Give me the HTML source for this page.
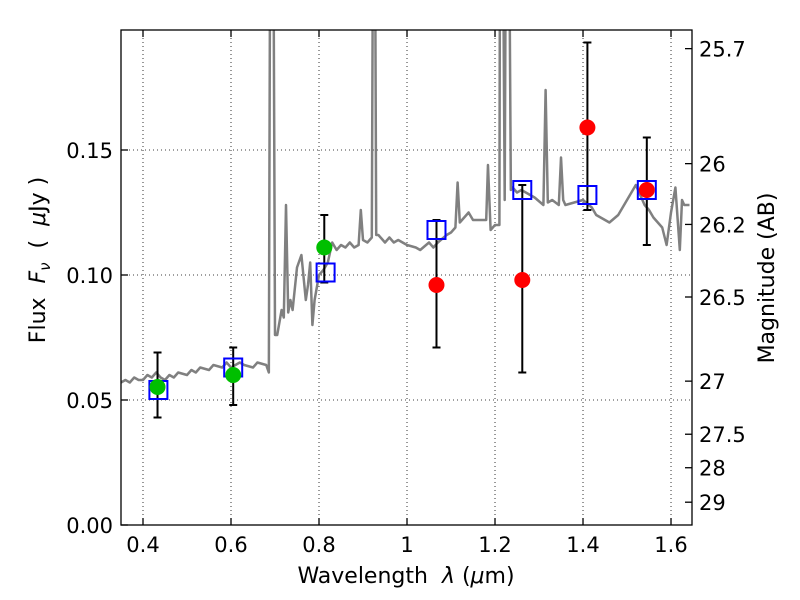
<!DOCTYPE html>
<html><head><meta charset="utf-8"><style>
body{margin:0;background:#fff}
svg{display:block;font-family:"DejaVu Sans","Liberation Sans",sans-serif}
</style></head><body>
<svg id="c" width="800" height="600"></svg>
<script>
const specWave=[0.35,0.36,0.37,0.38,0.39,0.4,0.41,0.42,0.43,0.44,0.45,0.46,0.47,0.48,0.5,0.51,0.52,0.53,0.55,0.56,0.58,0.59,0.6,0.62,0.63,0.65,0.66,0.68,0.686,0.69,0.695,0.7,0.705,0.715,0.72,0.725,0.73,0.735,0.74,0.75,0.76,0.77,0.775,0.78,0.785,0.79,0.80,0.81,0.82,0.83,0.84,0.85,0.86,0.87,0.88,0.89,0.895,0.90,0.91,0.92,0.924,0.926,0.93,0.935,0.95,0.96,0.97,0.98,1.0,1.02,1.03,1.05,1.06,1.07,1.09,1.1,1.11,1.115,1.12,1.13,1.14,1.15,1.165,1.18,1.184,1.19,1.2,1.21,1.212,1.216,1.222,1.226,1.23,1.236,1.24,1.25,1.26,1.28,1.29,1.31,1.315,1.32,1.33,1.345,1.35,1.355,1.36,1.38,1.4,1.42,1.43,1.46,1.48,1.5,1.52,1.54,1.55,1.56,1.57,1.58,1.59,1.6,1.61,1.62,1.625,1.63,1.642];
const specFlux=[0.057,0.058,0.057,0.059,0.058,0.058,0.06,0.059,0.061,0.059,0.058,0.06,0.059,0.061,0.06,0.062,0.061,0.063,0.062,0.064,0.063,0.065,0.063,0.065,0.064,0.063,0.065,0.064,0.061,0.3,0.3,0.076,0.076,0.086,0.083,0.128,0.085,0.09,0.086,0.103,0.108,0.09,0.096,0.105,0.08,0.09,0.1,0.102,0.105,0.113,0.11,0.112,0.111,0.113,0.111,0.112,0.126,0.114,0.113,0.115,0.3,0.3,0.116,0.116,0.113,0.115,0.113,0.114,0.112,0.111,0.11,0.113,0.111,0.113,0.116,0.117,0.119,0.137,0.121,0.123,0.125,0.122,0.122,0.122,0.144,0.118,0.12,0.12,0.3,0.3,0.13,0.3,0.3,0.134,0.135,0.133,0.134,0.132,0.131,0.128,0.174,0.129,0.13,0.128,0.147,0.13,0.128,0.129,0.13,0.127,0.124,0.121,0.124,0.13,0.136,0.128,0.126,0.123,0.121,0.119,0.112,0.125,0.135,0.11,0.13,0.128,0.128];
const obsWaveG=[0.433,0.605,0.812];
const obsFluxG=[0.0552,0.060,0.111];
const errLoG=[0.043,0.048,0.097];
const errHiG=[0.069,0.071,0.124];
const obsWaveR=[1.067,1.262,1.41,1.545];
const obsFluxR=[0.096,0.098,0.159,0.134];
const errLoR=[0.071,0.061,0.126,0.112];
const errHiR=[0.122,0.136,0.193,0.155];
const modelWave=[0.435,0.605,0.815,1.067,1.262,1.41,1.545];
const modelFlux=[0.054,0.063,0.101,0.118,0.134,0.132,0.134];
const xTicks=[0.4,0.6,0.8,1.0,1.2,1.4,1.6];
const xTickLabels=["0.4","0.6","0.8","1","1.2","1.4","1.6"];
const yTicks=[0,0.05,0.1,0.15];
const yTickLabels=["0.00","0.05","0.10","0.15"];
const magTicks=[25.7,26,26.2,26.5,27,27.5,28,29];
const magLabels=["25.7","26","26.2","26.5","27","27.5","28","29"];

const L=121,R=692,T=30,B=525,X0=0.35,X1=1.6477,Y0=0,Y1=0.198;
const sx=v=>L+(v-X0)/(X1-X0)*(R-L);
const sy=v=>B-(v-Y0)/(Y1-Y0)*(B-T);
const svg=document.getElementById('c');
const NS='http://www.w3.org/2000/svg';
function mk(tag,attrs,parent){const e=document.createElementNS(NS,tag);for(const k in attrs)e.setAttribute(k,attrs[k]);(parent||svg).appendChild(e);return e;}
const defs=mk('defs',{});const cp=mk('clipPath',{id:'clip'},defs);mk('rect',{x:L,y:T,width:R-L,height:B-T},cp);
xTicks.forEach((v,i)=>{
 const g=mk('line',{x1:sx(v),x2:sx(v),y1:T,y2:B,stroke:'#000','stroke-width':0.8,'stroke-dasharray':'1,3'});
 
 mk('line',{x1:sx(v),x2:sx(v),y1:B,y2:B-7,stroke:'#000','stroke-width':1.3});mk('line',{x1:sx(v),x2:sx(v),y1:T,y2:T+7,stroke:'#000','stroke-width':1.3});
 const t=mk('text',{x:sx(v),y:B+27,'font-size':21,'text-anchor':'middle'});t.textContent=xTickLabels[i];
 
});
yTicks.forEach((v,i)=>{
 const g=mk('line',{x1:L,x2:R,y1:sy(v),y2:sy(v),stroke:'#000','stroke-width':0.8,'stroke-dasharray':'1,3'});
 
 mk('line',{x1:L,x2:L+7,y1:sy(v),y2:sy(v),stroke:'#000','stroke-width':1.3});
 const t=mk('text',{x:L-8,y:sy(v)+8,'font-size':21,'text-anchor':'end'});t.textContent=yTickLabels[i];
 
});
magTicks.forEach((m,i)=>{
 const f=Math.pow(10,(23.9-m)/2.5);const y=sy(f);
 mk('line',{x1:R-7,x2:R,y1:y,y2:y,stroke:'#000','stroke-width':1.3});
 const t=mk('text',{x:R+7,y:y+8,'font-size':21});t.textContent=magLabels[i];
 
});
const gc=mk('g',{'clip-path':'url(#clip)'});
const p=mk('polyline',{points:specWave.map((w,i)=>sx(w)+','+sy(specFlux[i])).join(' '),fill:'none',stroke:'#808080','stroke-width':2.5,'stroke-linejoin':'round'},gc);

function errs(ws,lo,hi){ws.forEach((w,i)=>{const x=sx(w);
 const l=mk('line',{x1:x,x2:x,y1:sy(lo[i]),y2:sy(hi[i]),stroke:'#000','stroke-width':2},gc);
 
 mk('line',{x1:x-4,x2:x+4,y1:sy(lo[i]),y2:sy(lo[i]),stroke:'#000','stroke-width':2},gc);
 mk('line',{x1:x-4,x2:x+4,y1:sy(hi[i]),y2:sy(hi[i]),stroke:'#000','stroke-width':2},gc);});}
errs(obsWaveG,errLoG,errHiG);errs(obsWaveR,errLoR,errHiR);
modelWave.forEach((w,i)=>{const s=mk('rect',{x:sx(w)-9,y:sy(modelFlux[i])-9,width:18,height:18,fill:'none',stroke:'#0000ff','stroke-width':2},gc);
 });
obsWaveG.forEach((w,i)=>{const c=mk('circle',{cx:sx(w),cy:sy(obsFluxG[i]),r:8,fill:'#00bf00'},gc);
 });
obsWaveR.forEach((w,i)=>{const c=mk('circle',{cx:sx(w),cy:sy(obsFluxR[i]),r:8,fill:'#ff0000'},gc);
 });
const fr=mk('rect',{x:L,y:T,width:R-L,height:B-T,fill:'none',stroke:'#000','stroke-width':1.3});

</script>
<svg width="800" height="600" style="position:absolute;left:0;top:0">
<text x="406" y="583" font-size="22" text-anchor="middle" font-family="DejaVu Sans,sans-serif" xml:space="preserve">Wavelength  <tspan font-style="italic">λ</tspan> (<tspan font-style="italic">μ</tspan>m)</text>
<text transform="translate(45,260) rotate(-90)" font-size="22" text-anchor="middle" font-family="DejaVu Sans,sans-serif" xml:space="preserve">Flux  <tspan font-style="italic">F</tspan><tspan font-style="italic" font-size="15" dy="5">ν</tspan><tspan dy="-5">  (  </tspan><tspan font-style="italic">μ</tspan>Jy )</text>
<text transform="translate(774,278) rotate(-90)" font-size="22" text-anchor="middle" font-family="DejaVu Sans,sans-serif">Magnitude (AB)</text>
</svg>
</body></html>
